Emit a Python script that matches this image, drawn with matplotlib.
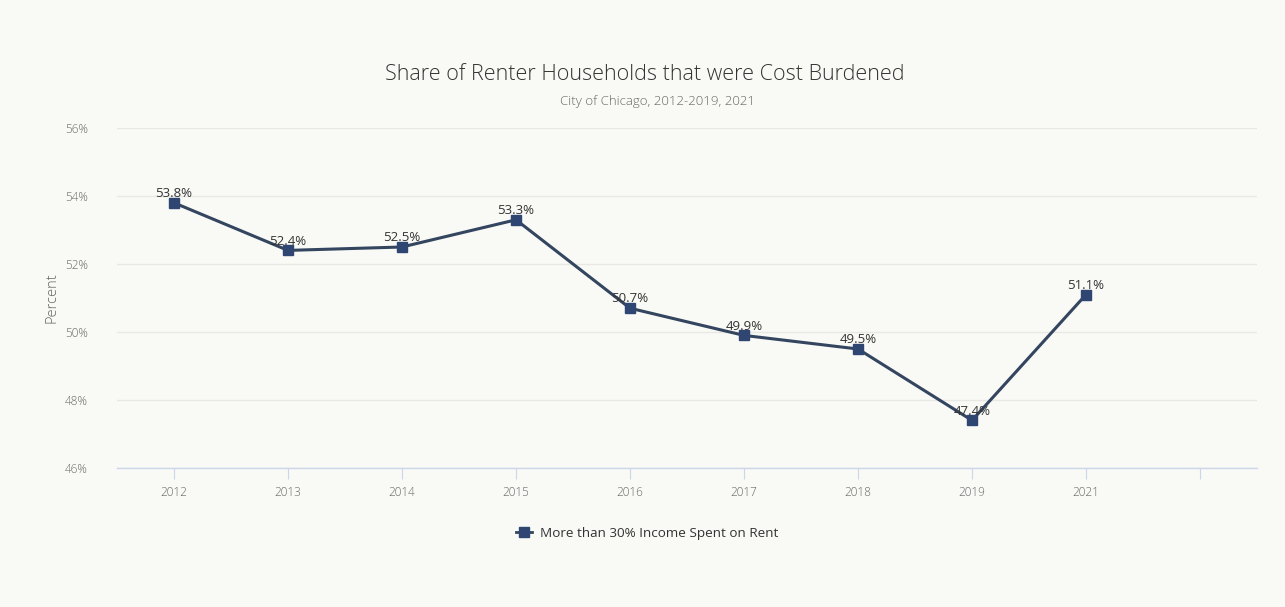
import matplotlib.pyplot as plt
from matplotlib.lines import Line2D

# Cost-burdened renter households, City of Chicago
years = ["2012", "2013", "2014", "2015", "2016", "2017", "2018", "2019", "2021"]
share = [53.8, 52.4, 52.5, 53.3, 50.7, 49.9, 49.5, 47.4, 51.1]
y_ticks = [46, 48, 50, 52, 54, 56]

BG = "#f9f9f6"
NAVY = "#2f4672"
LINE = "#34455f"

plt.rcParams["font.family"] = ["Open Sans", "DejaVu Sans"]

fig = plt.figure(figsize=(12.85, 6.07), dpi=100, facecolor=BG)
ax = fig.add_axes([117 / 1285, 1 - 468 / 607, 1140 / 1285, 340 / 607])
ax.set_facecolor(BG)

x = list(range(len(years)))
ax.plot(x, share, color=LINE, lw=2.2, zorder=3)
ax.plot(x, share, ls="none", marker="s", ms=6.5, color=NAVY, zorder=4)

for xi, v in zip(x, share):
    ax.annotate(f"{v:.1f}%", (xi, v), xytext=(0, 2), textcoords="offset points",
                ha="center", va="bottom", fontsize=9.5, color="#333333", zorder=5)

# one empty slot after the last year, as in the original axis
ax.set_xlim(-0.5, len(years) + 0.5)
ax.set_xticks(list(range(len(years) + 1)))
ax.set_xticklabels(years + [""], fontsize=8.5, color="#666666", fontweight="light")
ax.tick_params(axis="x", length=8, color="#ccd6eb", pad=5)

ax.set_ylim(46, 56)
ax.set_yticks(y_ticks)
ax.set_yticklabels([f"{t}%" for t in y_ticks], fontsize=8.5, color="#666666", fontweight="light")
ax.tick_params(axis="y", length=0, pad=21)
ax.grid(axis="y", color="#e8e8e4", lw=1)
ax.set_axisbelow(True)

for s in ["top", "right", "left"]:
    ax.spines[s].set_visible(False)
ax.spines["bottom"].set_color("#ccd6eb")
ax.spines["bottom"].set_linewidth(1)

fig.text(52 / 1285, 1 - 298 / 607, "Percent", rotation=90, ha="center", va="center",
         fontsize=10.5, color="#666666", fontweight="light")

fig.text(645 / 1285, 1 - 74 / 607, "Share of Renter Households that were Cost Burdened",
         ha="center", va="center", fontsize=15.5, color="#333333", fontweight="light")
fig.text(658 / 1285, 1 - 102 / 607, "City of Chicago, 2012-2019, 2021",
         ha="center", va="center", fontsize=9.5, color="#666666", fontweight="light")

handle = Line2D([], [], color=LINE, lw=2, marker="s", ms=6.5, markerfacecolor=NAVY,
                markeredgecolor=NAVY)
leg = fig.legend([handle], ["More than 30% Income Spent on Rent"], loc="center",
                 bbox_to_anchor=(647 / 1285, 1 - 533 / 607), frameon=False, fontsize=9.7,
                 handlelength=1.2, handletextpad=0.6)
for t in leg.get_texts():
    t.set_color("#333333")

fig.savefig("out.png", dpi=100, facecolor=BG)
